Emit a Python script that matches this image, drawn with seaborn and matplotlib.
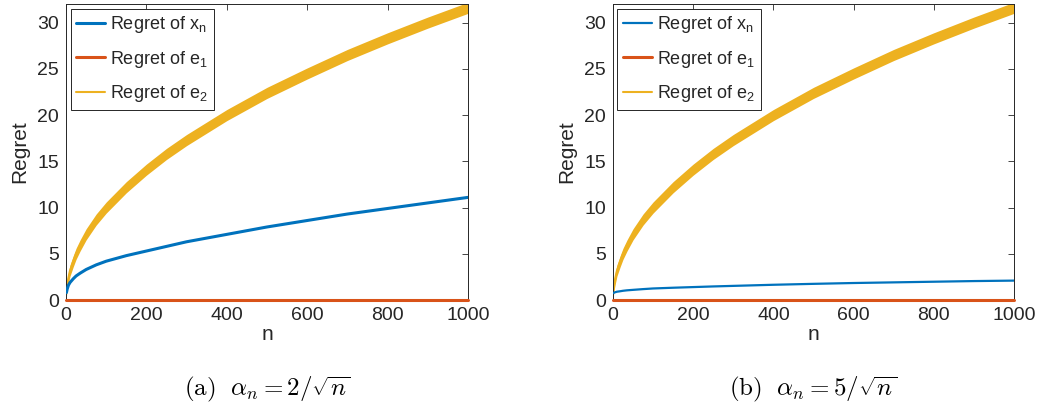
import numpy as np
import pandas as pd
import seaborn as sns
import matplotlib.pyplot as plt

# values
n = [1, 3, 6, 10, 18, 25, 35, 50, 75, 100, 150, 200, 250, 300, 400, 500, 600, 700, 800, 900, 1000]
regret_x_a = [0.8, 1.2, 1.6, 1.9, 2.3, 2.6, 2.9, 3.3, 3.8, 4.2, 4.8, 5.3, 5.8, 6.3, 7.1, 7.9, 8.6, 9.3, 9.9, 10.5, 11.1]
regret_x_b = [0.75, 0.8, 0.85, 0.9, 0.95, 1.0, 1.05, 1.1, 1.18, 1.25, 1.33, 1.4, 1.47, 1.53, 1.65, 1.75, 1.84, 1.91, 1.98, 2.05, 2.1]
regret_e1 = [0.0] * len(n)
regret_e2_mid = [1.0, 1.7, 2.4, 3.2, 4.2, 5.0, 5.9, 7.1, 8.7, 10.0, 12.2, 14.1, 15.8, 17.3,
                 20.0, 22.4, 24.5, 26.5, 28.3, 30.0, 31.6]
band = 0.6  # the e2 curve oscillates, drawn as a band
captions = [r"$\mathrm{(a)}\ \ \alpha_n = 2/\sqrt{n}$", r"$\mathrm{(b)}\ \ \alpha_n = 5/\sqrt{n}$"]

sns.set_style("white")
plt.rcParams['font.family'] = ['Liberation Sans', 'DejaVu Sans']
plt.rcParams['mathtext.fontset'] = 'cm'

blue, orange, yellow = "#0072BD", "#D95319", "#EDB120"
dark = "#262626"

fig = plt.figure(figsize=(10.43, 4.11), dpi=100)
axes = [fig.add_axes([0.0633, 0.27, 0.3854, 0.72]),
        fig.add_axes([0.5877, 0.27, 0.3845, 0.72])]

for ax, rx, cap, bw in zip(axes, [regret_x_a, regret_x_b], captions, [2.2, 1.6]):
    df = pd.DataFrame({"n": n, "x": rx, "e1": regret_e1, "e2": regret_e2_mid})
    df["lo"] = df["e2"] - band
    df["hi"] = df["e2"] + band
    sns.lineplot(data=df, x="n", y="x", color=blue, lw=bw, ax=ax,
                 label=r"Regret of x$_\mathregular{n}$", zorder=3)
    sns.lineplot(data=df, x="n", y="e1", color=orange, lw=2.2, ax=ax,
                 label=r"Regret of e$_\mathregular{1}$", zorder=4, clip_on=False)
    sns.lineplot(data=df, x="n", y="e2", color=yellow, lw=1.5, ax=ax,
                 label=r"Regret of e$_\mathregular{2}$", zorder=2)
    ax.fill_between(df["n"], df["lo"], df["hi"], color=yellow, lw=0, zorder=2)

    ax.set_xlim(0, 1000)
    ax.set_ylim(0, 32)
    ax.set_xticks([0, 200, 400, 600, 800, 1000])
    ax.set_yticks([0, 5, 10, 15, 20, 25, 30])
    ax.tick_params(direction="in", top=True, right=True, length=4, width=0.6,
                   labelsize=14, colors=dark, pad=5)
    for s in ax.spines.values():
        s.set_color(dark)
        s.set_linewidth(0.7)
    ax.set_xlabel("n", fontsize=15, color=dark, labelpad=1)
    ax.set_ylabel("Regret", fontsize=15, color=dark, labelpad=6)

    leg = ax.legend(loc="upper left", fontsize=13, frameon=True, fancybox=False,
                    edgecolor=dark, framealpha=1, handlelength=1.6,
                    handletextpad=0.3, labelspacing=0.75, borderpad=0.3,
                    borderaxespad=0.25)
    leg.get_frame().set_linewidth(0.7)

    ax.text(0.5, -0.3, cap, transform=ax.transAxes, ha="center", va="center",
            fontsize=18, color="black")

fig.savefig("out.png", dpi=100)
